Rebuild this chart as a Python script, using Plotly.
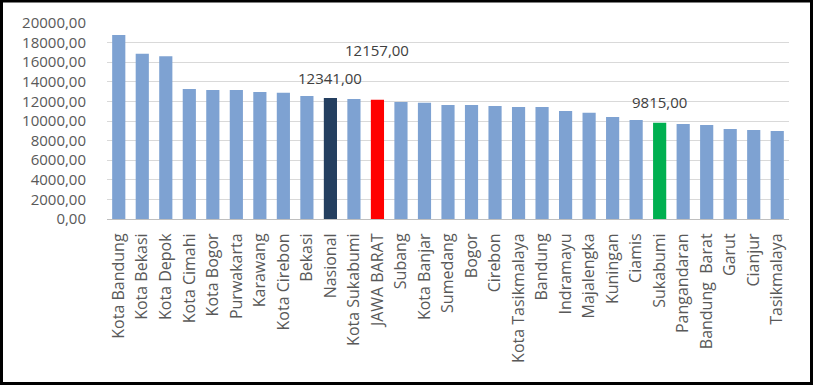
import plotly.graph_objects as go

categories = ["Kota Bandung", "Kota Bekasi", "Kota Depok", "Kota Cimahi", "Kota Bogor",
              "Purwakarta", "Karawang", "Kota Cirebon", "Bekasi", "Nasional",
              "Kota Sukabumi", "JAWA BARAT", "Subang", "Kota Banjar", "Sumedang",
              "Bogor", "Cirebon", "Kota Tasikmalaya", "Bandung", "Indramayu",
              "Majalengka", "Kuningan", "Ciamis", "Sukabumi", "Pangandaran",
              "Bandung  Barat", "Garut", "Cianjur", "Tasikmalaya"]
values = [18780, 16850, 16610, 13270, 13170,
          13170, 12970, 12870, 12560, 12341,
          12250, 12157, 11950, 11850, 11640,
          11640, 11540, 11440, 11440, 11030,
          10830, 10420, 10110, 9815, 9700,
          9600, 9190, 9090, 8990]
y_ticks = [0, 2000, 4000, 6000, 8000, 10000, 12000, 14000, 16000, 18000, 20000]

highlight = {"Nasional": "#243F60", "JAWA BARAT": "#FF0000", "Sukabumi": "#00B050"}
label_shift = {"Nasional": 8, "JAWA BARAT": 38, "Sukabumi": 9}
base_color = "#7EA2D2"
colors = [highlight.get(c, base_color) for c in categories]

fig = go.Figure(go.Bar(x=categories, y=values, marker_color=colors,
                       marker_line_width=0, width=0.56))

def fmt(v):
    return f"{v:.2f}".replace(".", ",")

for c, v in zip(categories, values):
    if c in label_shift:
        fig.add_annotation(x=c, y=v, text=fmt(v), showarrow=False,
                           yshift=label_shift[c], yanchor="bottom",
                           font=dict(family="Open Sans", size=15, color="#404040"))

W, H = 813, 385
ml, mr, mt, mb = 107, 24, 23, 166
pw, ph = W - ml - mr, H - mt - mb

def px(x):
    return (x - ml) / pw

def py(y):
    return (H - mb - y) / ph

fig.add_shape(type="rect", xref="paper", yref="paper",
              x0=px(1.5), x1=px(W - 1.5), y0=py(H - 1.5), y1=py(1),
              line=dict(color="black", width=3), layer="above")

fig.update_layout(
    width=W, height=H,
    margin=dict(l=ml, r=mr, t=mt, b=mb),
    paper_bgcolor="white", plot_bgcolor="white",
    showlegend=False,
    separators=",.",
    bargap=0.44,
    font=dict(family="Open Sans", size=16, color="#595959"),
)
fig.update_yaxes(range=[0, 20000], tickvals=y_ticks, tickformat=".2f",
                 showgrid=True, gridcolor="#D9D9D9", gridwidth=1,
                 zeroline=False, showline=False, ticks="",
                 ticklabelstandoff=20,
                 tickfont=dict(family="Open Sans", size=15, color="#595959"))
fig.update_xaxes(tickangle=-90, showline=True, linecolor="#BFBFBF", linewidth=1,
                 ticks="", showgrid=False, ticklabelstandoff=7,
                 tickfont=dict(family="Open Sans", size=16, color="#595959"))

fig.write_html("out.html", config={"displayModeBar": False},
               post_script="document.body.style.margin='0';document.body.style.padding='0';")
